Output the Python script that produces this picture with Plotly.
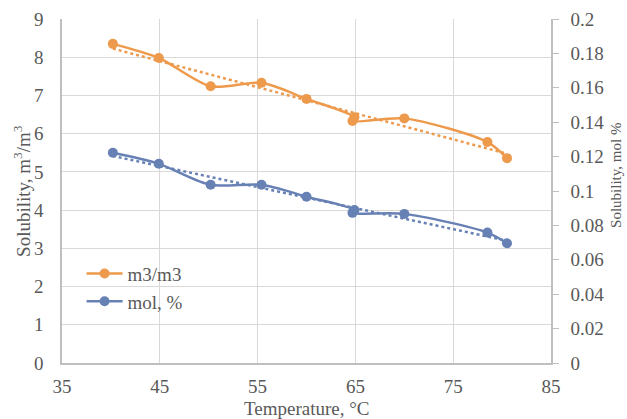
import numpy as np
import plotly.graph_objects as go

# Temperatures (°C) and measured solubility
temperature = [40.2, 44.9, 50.2, 55.4, 60.0, 64.9, 64.7, 70.0, 78.5, 80.5]
solubility_m3 = [8.35, 7.98, 7.24, 7.33, 6.91, 6.43, 6.33, 6.40, 5.78, 5.36]
solubility_mol = [0.1222, 0.1158, 0.1036, 0.1036, 0.0967, 0.0889, 0.0873, 0.0867, 0.0758, 0.0696]

x_ticks = [35, 45, 55, 65, 75, 85]
y_ticks = [0, 1, 2, 3, 4, 5, 6, 7, 8, 9]
y2_ticks = [0, 0.02, 0.04, 0.06, 0.08, 0.1, 0.12, 0.14, 0.16, 0.18, 0.2]

ORANGE = "#EE9A4D"
BLUE = "#6781B5"
TEXT = "#595959"
FONT = "Liberation Serif, Times New Roman, serif"
tick_font = dict(family=FONT, size=19, color=TEXT)

# linear trend lines fitted over the measurements
t_fit = np.array([min(temperature), max(temperature)])
k1, b1 = np.polyfit(temperature, solubility_m3, 1)
k2, b2 = np.polyfit(temperature, solubility_mol, 1)

fig = go.Figure()

fig.add_trace(go.Scatter(
    x=t_fit, y=k1 * t_fit + b1, mode="lines", showlegend=False,
    line=dict(color=ORANGE, width=2.5, dash="dot"), hoverinfo="skip",
))
fig.add_trace(go.Scatter(
    x=t_fit, y=k2 * t_fit + b2, mode="lines", showlegend=False, yaxis="y2",
    line=dict(color=BLUE, width=2.5, dash="dot"), hoverinfo="skip",
))
fig.add_trace(go.Scatter(
    x=temperature, y=solubility_m3, name="m3/m3", mode="lines+markers",
    line=dict(color=ORANGE, width=2.5, shape="spline", smoothing=0.8),
    marker=dict(color=ORANGE, size=10),
))
fig.add_trace(go.Scatter(
    x=temperature, y=solubility_mol, name="mol, %", mode="lines+markers", yaxis="y2",
    line=dict(color=BLUE, width=2.5, shape="spline", smoothing=0.8),
    marker=dict(color=BLUE, size=10),
))

axis_title_font = dict(family=FONT, size=19, color=TEXT)

fig.update_layout(
    width=627, height=419,
    margin=dict(l=62, r=76, t=19, b=56),
    paper_bgcolor="white", plot_bgcolor="white",
    font=dict(family=FONT, size=19, color=TEXT),
    xaxis=dict(
        range=[35, 85], tickvals=x_ticks, showgrid=True, gridcolor="#d9d9d9", gridwidth=1,
        showline=True, linecolor="#bfbfbf", linewidth=1.5, zeroline=False,
        ticks="", tickfont=tick_font, ticklabelstandoff=5, automargin=False,
    ),
    yaxis=dict(
        range=[0, 9], tickvals=y_ticks, showgrid=True, gridcolor="#d9d9d9", gridwidth=1,
        showline=True, linecolor="#bfbfbf", linewidth=1.5, zeroline=False,
        ticks="", tickfont=tick_font, ticklabelstandoff=13, automargin=False,
    ),
    yaxis2=dict(
        range=[0, 0.2], tickvals=y2_ticks, overlaying="y", side="right", showgrid=False,
        showline=True, linecolor="#bfbfbf", linewidth=1.5, zeroline=False,
        ticks="outside", ticklen=6, tickcolor="#bfbfbf", tickfont=tick_font,
        ticklabelstandoff=8, automargin=False,
    ),
    legend=dict(
        x=0.04, y=0.315, xanchor="left", yanchor="top", bgcolor="rgba(0,0,0,0)",
        font=dict(family=FONT, size=19, color=TEXT), tracegroupgap=0, itemwidth=36,
    ),
    annotations=[
        dict(text="Temperature, °C", xref="paper", yref="paper", x=0.5, y=-0.131,
             xanchor="center", yanchor="middle", showarrow=False, font=axis_title_font),
        dict(text="Solubility, m<sup>3</sup>/m<sup>3</sup>", textangle=-90,
             xref="paper", yref="paper", x=-0.082, y=0.5,
             xanchor="center", yanchor="middle", showarrow=False, font=axis_title_font),
        dict(text="Solubility, mol %", textangle=-90, xref="paper", yref="paper",
             x=1.133, y=0.544, xanchor="center", yanchor="middle", showarrow=False,
             font=dict(family=FONT, size=15, color=TEXT)),
    ],
)

fig.write_html("out.html")
